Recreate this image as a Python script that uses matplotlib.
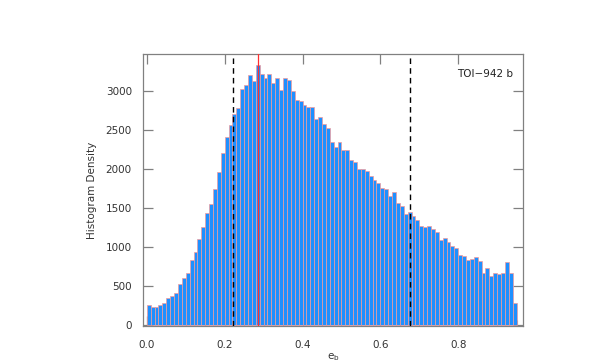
import matplotlib
matplotlib.use('Agg')
import matplotlib.pyplot as plt
import numpy as np
from matplotlib.ticker import MultipleLocator

# histogram of e_b, bin width 0.01 from 0.0 to 0.95
bin_lo = 0.0
bin_width = 0.01
counts = [251, 230, 236, 259, 288, 343, 371, 407, 530, 601,
          661, 832, 940, 1108, 1250, 1435, 1557, 1743, 1955, 2200,
          2405, 2560, 2700, 2785, 3030, 3070, 3204, 3132, 3330, 3220,
          3165, 3220, 3105, 3169, 3012, 3171, 3141, 2997, 2880, 2868,
          2817, 2791, 2791, 2643, 2661, 2571, 2523, 2342, 2287, 2351,
          2239, 2239, 2119, 2093, 2003, 2003, 1968, 1907, 1860, 1822,
          1761, 1744, 1658, 1700, 1563, 1524, 1425, 1442, 1395, 1348,
          1274, 1253, 1266, 1231, 1188, 1085, 1120, 1059, 1008, 986,
          895, 886, 835, 844, 865, 822, 672, 736, 628, 672,
          659, 663, 809, 667, 288]

mode_val = 0.285
lower_val = 0.221
upper_val = 0.677
label = 'TOI\u2212942 b'

edges = bin_lo + bin_width * np.arange(len(counts))

plt.rcParams['font.family'] = ['DejaVu Sans']
fig = plt.figure(figsize=(5.98, 3.64), dpi=100)
ax = fig.add_axes([0.239, 0.104, 0.636, 0.748])

ax.bar(edges, counts, width=bin_width, align='edge', color='#1e90ff',
       edgecolor='#f49a9a', linewidth=0.5, zorder=2)

ax.axvline(mode_val, color='#ff3030', linewidth=0.9, zorder=3)
for v in (lower_val, upper_val):
    ax.axvline(v, color='black', linewidth=1.0, linestyle=(0, (4, 3)), zorder=3)

ax.set_xlim(-0.01, 0.967)
ax.set_ylim(-15, 3475)

ax.xaxis.set_minor_locator(MultipleLocator(0.05))
ax.yaxis.set_major_locator(MultipleLocator(500))
ax.set_xticks(np.arange(0, 0.81, 0.2))
ax.set_xticklabels(['0.0', '0.2', '0.4', '0.6', '0.8'])

grey = '#808080'
for s in ax.spines.values():
    s.set_color(grey)
    s.set_linewidth(0.9)
ax.tick_params(which='both', direction='in', top=True, right=True,
               color=grey, labelcolor='#333333', labelsize=7.5)
ax.tick_params(axis='x', pad=10)
ax.tick_params(axis='y', pad=8)
ax.tick_params(which='major', length=7, width=0.9)
ax.tick_params(which='minor', length=4, width=0.8, top=False)

ax.set_ylabel('Histogram Density', fontsize=7.5, color='#333333', labelpad=6)
ax.set_xlabel(r'e$_\mathrm{b}$', fontsize=7.5, color='#333333', labelpad=1)

ax.text(0.974, 0.926, label, transform=ax.transAxes, ha='right', va='center',
        fontsize=7.5, color='#222222')

fig.savefig('out.png', dpi=100)
